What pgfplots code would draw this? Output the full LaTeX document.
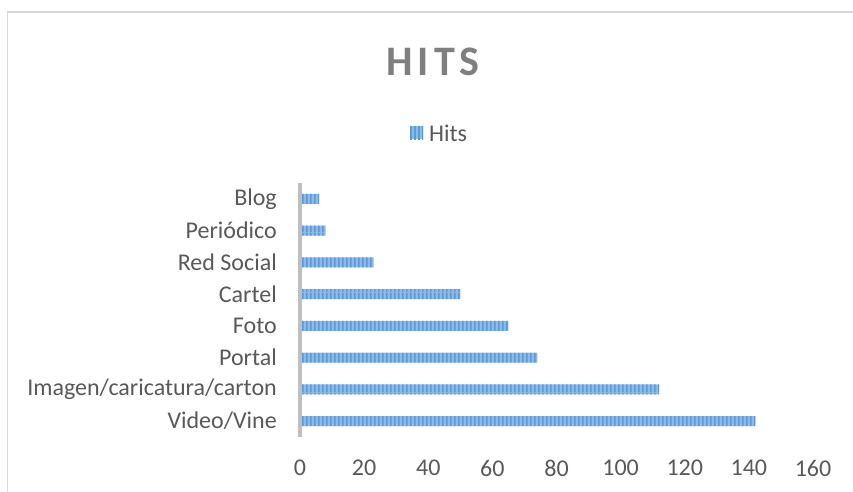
\documentclass[border=0pt]{standalone}
\usepackage{fontspec}
\setmainfont{Carlito}
\usepackage{pgfplots}
\pgfplotsset{compat=1.18}
\usetikzlibrary{patterns}
\pgfdeclarepatternformonly{vstripes}{\pgfpointorigin}{\pgfpoint{3.6pt}{20pt}}{\pgfpoint{3.6pt}{20pt}}{\pgfpathrectangle{\pgfpointorigin}{\pgfpoint{1.8pt}{20pt}}\pgfusepath{fill}}
\definecolor{barlight}{HTML}{8DBAE8}
\definecolor{bardark}{HTML}{5B9BD5}
\definecolor{txt}{HTML}{595959}
\definecolor{ttl}{HTML}{7F7F7F}
\definecolor{axgray}{HTML}{BFBFBF}
\definecolor{frame}{HTML}{D9D9D9}
\pgfplotstableread{
y x
0 142
1 112
2 74
3 65
4 50
5 23
6 8
7 6
}\hits
\begin{document}
\begin{tikzpicture}
\useasboundingbox (0,0) rectangle (853pt,491pt);
\fill[white] (0,0) rectangle (853pt,491pt);
\draw[frame, line width=1.5pt] (7.5pt,-5pt) -- (7.5pt,479pt) -- (860pt,479pt);
\begin{axis}[
  at={(300pt,54pt)}, anchor=south west,
  scale only axis, width=513pt, height=254pt,
  xmin=0, xmax=160, ymin=-0.5, ymax=7.5,
  xbar, bar width=10pt,
  axis line style={draw=none},
  major tick length=0pt,
  xtick={0,20,...,160},
  ytick={0,...,7},
  yticklabels={Video/Vine,Imagen/caricatura/carton,Portal,Foto,Cartel,Red Social,Periódico,Blog},
  /pgf/number format/assume math mode=true,
  tick label style={font=\fontsize{24}{29}\selectfont, text=txt, inner sep=0pt},
  yticklabel style={xshift=-23pt},
  xticklabel style={yshift=-23pt},
  clip=false,
  legend style={at={(0.27,1.197)}, anchor=center, draw=none, fill=none,
    font=\fontsize{24}{29}\selectfont, text=txt, inner sep=0pt,
    nodes={inner sep=0pt, text depth=0pt}},
  legend image code/.code={\fill[barlight] (0pt,-6.5pt) rectangle (13pt,6.5pt);
     \fill[pattern=vstripes, pattern color=bardark] (0pt,-6.5pt) rectangle (13pt,6.5pt);
     \path (19pt,0pt);},
]
\addplot[draw=none, fill=barlight, postaction={pattern=vstripes, pattern color=bardark}] table[x=x, y=y] {\hits};
\addlegendentry{Hits}
\draw[axgray, line width=3.5pt] (axis cs:0,-0.5) -- (axis cs:0,7.5);
\end{axis}
\node[font=\fontsize{42}{50}\selectfont\bfseries\addfontfeature{LetterSpace=12}, text=ttl] at (433pt,429pt) {HITS};
\end{tikzpicture}
\end{document}
